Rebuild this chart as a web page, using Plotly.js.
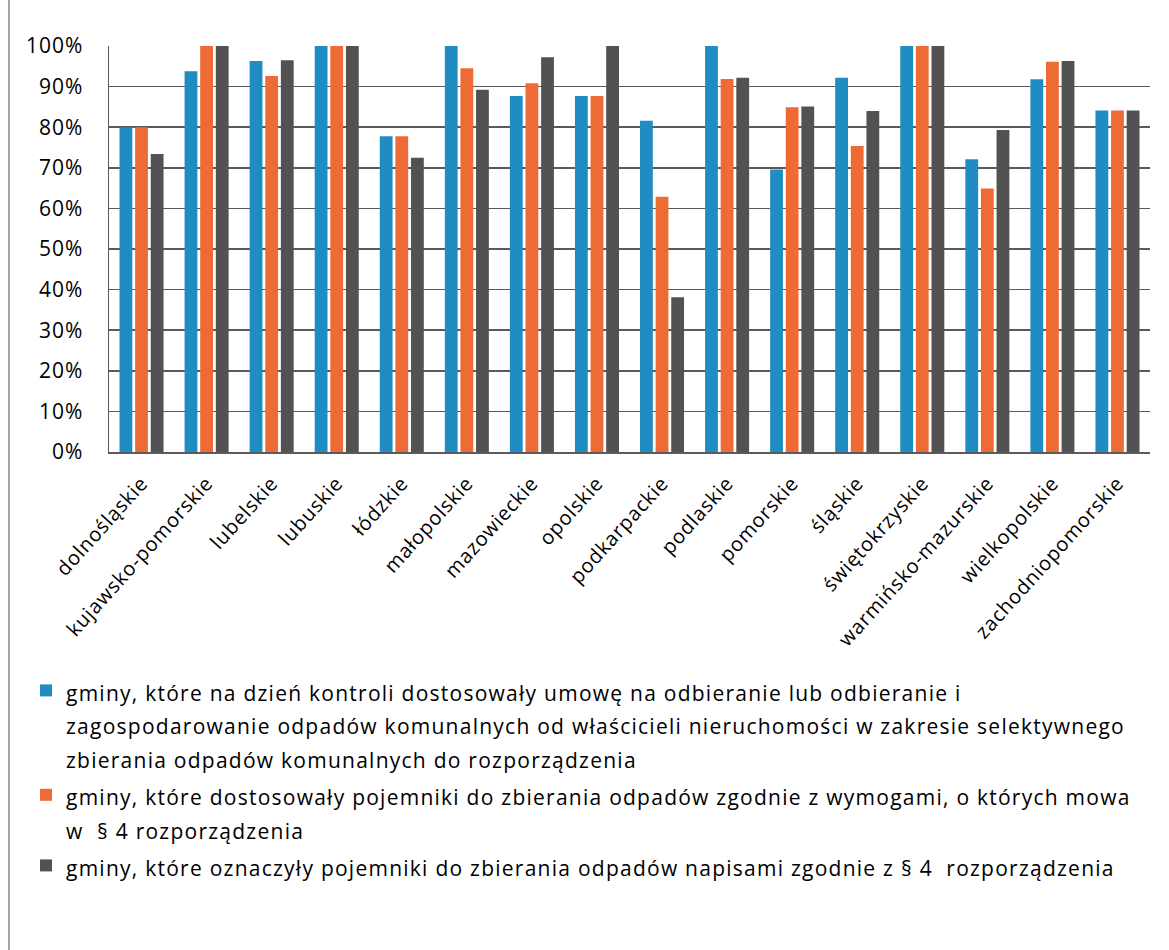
<!DOCTYPE html>
<html>
<head>
<meta charset="utf-8">
<script src="https://cdn.plot.ly/plotly-3.0.1.min.js"></script>
<style>html,body{margin:0;padding:0;background:#fff;}#chart{width:1169px;height:950px;}</style>
</head>
<body>
<div id="chart"></div>
<script>
const categories = ["dolnośląskie","kujawsko-pomorskie","lubelskie","lubuskie","łódzkie","małopolskie","mazowieckie","opolskie","podkarpackie","podlaskie","pomorskie","śląskie","świętokrzyskie","warmińsko-mazurskie","wielkopolskie","zachodniopomorskie"];
const umowa =      [0.80,0.938,0.963,1.00,0.778,1.00,0.877,0.877,0.816,1.00,0.696,0.922,1.00,0.721,0.918,0.841];
const pojemniki =  [0.80,1.00,0.926,1.00,0.778,0.945,0.908,0.877,0.629,0.919,0.849,0.754,1.00,0.649,0.961,0.841];
const oznaczenia = [0.734,1.00,0.965,1.00,0.725,0.892,0.972,1.00,0.381,0.922,0.851,0.840,1.00,0.793,0.963,0.841];
const yTicks = [0,0.1,0.2,0.3,0.4,0.5,0.6,0.7,0.8,0.9,1.0];
const yTickText = ["0%","10%","20%","30%","40%","50%","60%","70%","80%","90%","100%"];
const seriesNames = [
  ["gminy, które na dzień kontroli dostosowały umowę na odbieranie lub odbieranie i",
   "zagospodarowanie odpadów komunalnych od właścicieli nieruchomości w zakresie selektywnego",
   "zbierania odpadów komunalnych do rozporządzenia"],
  ["gminy, które dostosowały pojemniki do zbierania odpadów zgodnie z wymogami, o których mowa",
   "w\u00a0 § 4 rozporządzenia"],
  ["gminy, które oznaczyły pojemniki do zbierania odpadów napisami zgodnie z § 4\u00a0 rozporządzenia"]
];
const colors = ["#1f8dc1","#ee6b36","#525252"];

function styled(t, fs, ls){
  return '<span style="font-size:' + fs + 'px;letter-spacing:' + ls + 'px">' + t + '</span>';
}
function legendName(lines){
  return lines.map(l => styled(l, 21, 1.25)).join('<br>');
}

const values = [umowa, pojemniki, oznaczenia];
const data = values.map((v,i) => ({
  type: 'bar',
  x: categories,
  y: v,
  name: legendName(seriesNames[i]),
  marker: {color: colors[i]},
  hoverinfo: 'x+y'
}));

const PL = 109, PR = 1150, PT = 46, PB = 452;
const pw = PR - PL, ph = PB - PT;

const layout = {
  width: 1169, height: 950,
  margin: {l: PL, r: 1169 - PR, t: PT, b: 950 - PB, pad: 0, autoexpand: false},
  paper_bgcolor: '#ffffff',
  plot_bgcolor: '#ffffff',
  font: {family: '"Open Sans", sans-serif', color: '#000'},
  barmode: 'group',
  bargap: 0.28,
  bargroupgap: 0.18,
  xaxis: {
    type: 'category',
    tickangle: -48,
    tickvals: categories,
    ticktext: categories.map(c => styled(c, 20, 0.8)),
    tickfont: {size: 20, color: '#000'},
    showline: true, linecolor: '#5a5a5a', linewidth: 1.5,
    ticks: '', showgrid: false, automargin: false,
    ticklabelstandoff: 10
  },
  yaxis: {
    range: [0, 1],
    tickvals: yTicks,
    ticktext: yTickText.map(t => styled(t, 21, 1)),
    tickfont: {size: 21, color: '#000'},
    showline: true, linecolor: '#5a5a5a', linewidth: 1.5,
    showgrid: true, gridcolor: '#5a5a5a', gridwidth: 1.5,
    zeroline: false,
    ticks: '',
    ticklabelstandoff: 20,
    automargin: false
  },
  showlegend: true,
  legend: {
    xref: 'container', yref: 'container',
    x: 26/1169, y: 1 - 667/950,
    xanchor: 'left', yanchor: 'top',
    orientation: 'v',
    valign: 'top',
    font: {size: 26, color: '#000'},
    itemwidth: 30,
    tracegroupgap: 0,
    bgcolor: 'rgba(0,0,0,0)'
  },
  shapes: [{
    type: 'line', xref: 'paper', yref: 'paper',
    x0: (9 - PL)/pw, x1: (9 - PL)/pw,
    y0: (PB - 950)/ph, y1: (PB - 0)/ph,
    line: {color: '#8a8a8a', width: 1.5}
  }]
};

Plotly.newPlot('chart', data, layout, {displayModeBar: false, staticPlot: true});
</script>
</body>
</html>
